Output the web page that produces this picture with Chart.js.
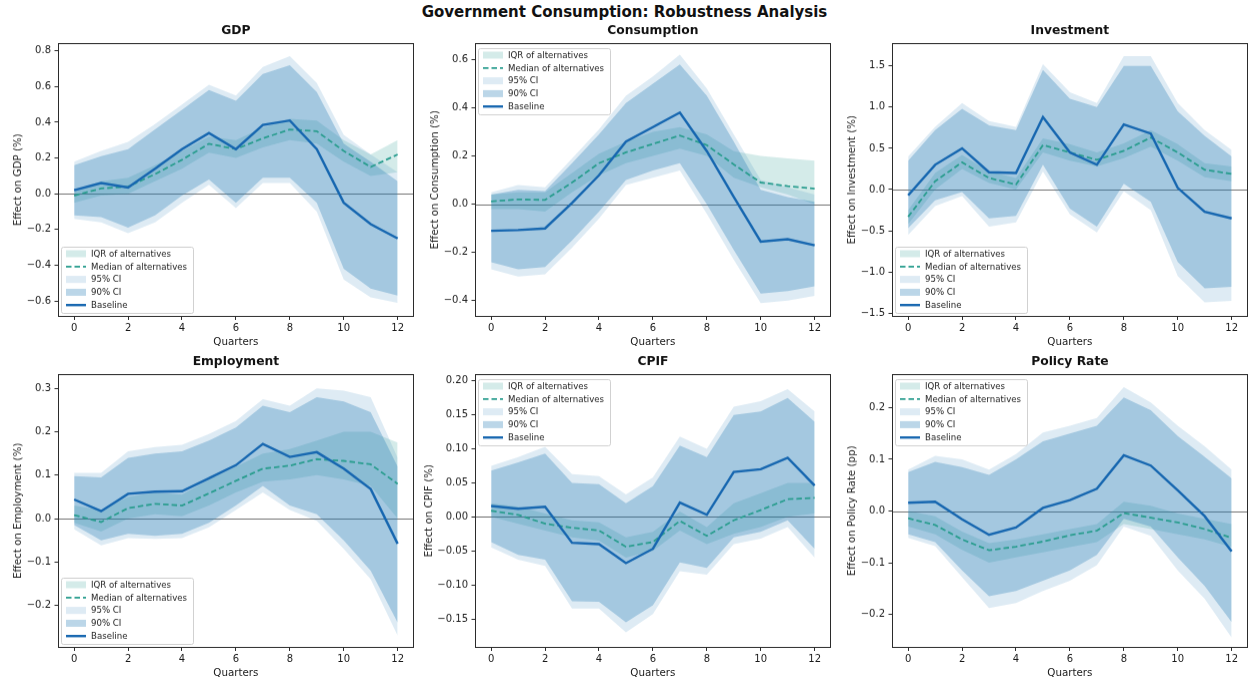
<!DOCTYPE html>
<html>
<head>
<meta charset="utf-8">
<script src="https://cdn.jsdelivr.net/npm/chart.js@4.4.1/dist/chart.umd.min.js"></script>
<style>
  html, body { margin: 0; padding: 0; background: #fff; width: 1249px; height: 680px; overflow: hidden; }
  #suptitle { position: absolute; left: 0; top: 3px; width: 1249px; text-align: center;
              font: bold 15px "DejaVu Sans", sans-serif; color: #111; }
  .panel { position: absolute; }
</style>
</head>
<body>
<div id="suptitle">Government Consumption: Robustness Analysis</div>
<div class="panel" id="p0"><canvas></canvas></div>
<div class="panel" id="p1"><canvas></canvas></div>
<div class="panel" id="p2"><canvas></canvas></div>
<div class="panel" id="p3"><canvas></canvas></div>
<div class="panel" id="p4"><canvas></canvas></div>
<div class="panel" id="p5"><canvas></canvas></div>
<script>
// Horizon (quarters after the shock)
const quarters = [0, 1, 2, 3, 4, 5, 6, 7, 8, 9, 10, 11, 12];
const xTicks = [0, 2, 4, 6, 8, 10, 12];

// ---- GDP ----
const gdpBaseline = [0.02, 0.06, 0.035, 0.14, 0.25, 0.34, 0.25, 0.385, 0.41, 0.25, -0.05, -0.17, -0.25];
const gdpMedian   = [-0.01, 0.03, 0.04, 0.11, 0.19, 0.28, 0.25, 0.31, 0.36, 0.35, 0.24, 0.15, 0.22];
const gdpIqrLo    = [-0.05, -0.01, 0.0, 0.07, 0.14, 0.23, 0.2, 0.26, 0.3, 0.28, 0.18, 0.1, 0.12];
const gdpIqrHi    = [0.02, 0.07, 0.09, 0.16, 0.24, 0.32, 0.3, 0.37, 0.42, 0.41, 0.3, 0.22, 0.3];
const gdpCi90Lo   = [-0.12, -0.13, -0.19, -0.12, -0.01, 0.08, -0.05, 0.09, 0.09, -0.05, -0.42, -0.53, -0.57];
const gdpCi90Hi   = [0.16, 0.21, 0.25, 0.36, 0.47, 0.58, 0.52, 0.67, 0.72, 0.57, 0.28, 0.18, 0.07];
const gdpCi95Lo   = [-0.14, -0.16, -0.22, -0.16, -0.05, 0.05, -0.08, 0.06, 0.06, -0.1, -0.48, -0.58, -0.61];
const gdpCi95Hi   = [0.18, 0.24, 0.29, 0.39, 0.5, 0.61, 0.55, 0.71, 0.77, 0.62, 0.33, 0.22, 0.12];
const gdpYTicks   = [-0.6, -0.4, -0.2, 0, 0.2, 0.4, 0.6, 0.8];
const gdpYLabels  = ['\u22120.6', '\u22120.4', '\u22120.2', '0.0', '0.2', '0.4', '0.6', '0.8'];

// ---- Consumption ----
const consBaseline = [-0.11, -0.107, -0.1, 0.005, 0.12, 0.26, 0.32, 0.38, 0.22, 0.03, -0.155, -0.145, -0.17];
const consMedian   = [0.012, 0.02, 0.018, 0.09, 0.17, 0.215, 0.25, 0.285, 0.245, 0.165, 0.09, 0.075, 0.065];
const consIqrLo    = [-0.02, -0.02, -0.03, 0.05, 0.12, 0.17, 0.2, 0.23, 0.2, 0.11, 0.07, 0.04, 0.0];
const consIqrHi    = [0.04, 0.05, 0.05, 0.13, 0.21, 0.26, 0.3, 0.32, 0.29, 0.22, 0.2, 0.19, 0.18];
const consCi90Lo   = [-0.24, -0.27, -0.26, -0.15, -0.03, 0.1, 0.14, 0.17, 0.0, -0.19, -0.37, -0.36, -0.34];
const consCi90Hi   = [0.04, 0.06, 0.055, 0.17, 0.29, 0.42, 0.5, 0.58, 0.45, 0.26, 0.06, 0.03, 0.01];
const consCi95Lo   = [-0.27, -0.3, -0.29, -0.18, -0.06, 0.08, 0.11, 0.14, -0.04, -0.23, -0.41, -0.4, -0.38];
const consCi95Hi   = [0.05, 0.08, 0.07, 0.19, 0.31, 0.45, 0.53, 0.62, 0.48, 0.29, 0.1, 0.07, 0.04];
const consYTicks   = [-0.4, -0.2, 0, 0.2, 0.4, 0.6];
const consYLabels  = ['\u22120.4', '\u22120.2', '0.0', '0.2', '0.4', '0.6'];

// ---- Investment ----
const invBaseline = [-0.07, 0.3, 0.5, 0.21, 0.2, 0.88, 0.45, 0.3, 0.79, 0.68, 0.02, -0.27, -0.35];
const invMedian   = [-0.33, 0.1, 0.33, 0.14, 0.06, 0.54, 0.45, 0.36, 0.47, 0.63, 0.45, 0.24, 0.19];
const invIqrLo    = [-0.42, 0.0, 0.25, 0.08, 0.0, 0.45, 0.35, 0.28, 0.38, 0.52, 0.35, 0.15, 0.1];
const invIqrHi    = [-0.25, 0.2, 0.42, 0.22, 0.14, 0.62, 0.55, 0.45, 0.56, 0.72, 0.55, 0.32, 0.28];
const invCi90Lo   = [-0.47, -0.13, -0.03, -0.35, -0.32, 0.3, -0.23, -0.45, 0.07, -0.15, -0.88, -1.2, -1.18];
const invCi90Hi   = [0.35, 0.72, 0.98, 0.78, 0.72, 1.45, 1.1, 1.0, 1.5, 1.5, 0.95, 0.65, 0.4];
const invCi95Lo   = [-0.55, -0.2, -0.08, -0.45, -0.4, 0.22, -0.3, -0.52, -0.02, -0.25, -1.05, -1.37, -1.35];
const invCi95Hi   = [0.4, 0.76, 1.05, 0.83, 0.76, 1.52, 1.18, 1.05, 1.62, 1.62, 1.05, 0.72, 0.48];
const invYTicks   = [-1.5, -1.0, -0.5, 0, 0.5, 1.0, 1.5];
const invYLabels  = ['\u22121.5', '\u22121.0', '\u22120.5', '0.0', '0.5', '1.0', '1.5'];

// ---- Employment ----
const empBaseline = [0.044, 0.017, 0.057, 0.062, 0.063, 0.093, 0.123, 0.172, 0.142, 0.153, 0.115, 0.068, -0.058];
const empMedian   = [0.008, -0.008, 0.024, 0.034, 0.03, 0.058, 0.087, 0.115, 0.122, 0.137, 0.133, 0.125, 0.08];
const empIqrLo    = [-0.01, -0.03, 0.0, 0.01, 0.005, 0.03, 0.06, 0.085, 0.09, 0.1, 0.09, 0.075, 0.0];
const empIqrHi    = [0.03, 0.02, 0.05, 0.06, 0.055, 0.09, 0.12, 0.15, 0.16, 0.18, 0.2, 0.2, 0.175];
const empCi90Lo   = [-0.015, -0.05, -0.035, -0.04, -0.035, -0.01, 0.03, 0.075, 0.03, 0.01, -0.05, -0.12, -0.24];
const empCi90Hi   = [0.098, 0.095, 0.14, 0.15, 0.155, 0.18, 0.21, 0.26, 0.245, 0.28, 0.27, 0.245, 0.12];
const empCi95Lo   = [-0.025, -0.062, -0.045, -0.047, -0.045, -0.02, 0.02, 0.06, 0.02, -0.005, -0.07, -0.14, -0.27];
const empCi95Hi   = [0.105, 0.105, 0.155, 0.165, 0.17, 0.195, 0.225, 0.275, 0.26, 0.3, 0.295, 0.28, 0.14];
const empYTicks   = [-0.2, -0.1, 0, 0.1, 0.2, 0.3];
const empYLabels  = ['\u22120.2', '\u22120.1', '0.0', '0.1', '0.2', '0.3'];

// ---- CPIF ----
const cpifBaseline = [0.016, 0.012, 0.015, -0.038, -0.04, -0.068, -0.047, 0.021, 0.003, 0.066, 0.07, 0.087, 0.046];
const cpifMedian   = [0.009, 0.003, -0.01, -0.016, -0.02, -0.044, -0.037, -0.006, -0.028, -0.005, 0.01, 0.026, 0.028];
const cpifIqrLo    = [0.0, -0.01, -0.02, -0.03, -0.035, -0.06, -0.05, -0.02, -0.04, -0.025, -0.015, 0.0, 0.005];
const cpifIqrHi    = [0.02, 0.015, 0.005, -0.005, -0.008, -0.03, -0.022, 0.008, -0.015, 0.02, 0.035, 0.05, 0.05];
const cpifCi90Lo   = [-0.037, -0.056, -0.063, -0.124, -0.125, -0.155, -0.13, -0.067, -0.075, -0.03, -0.022, -0.005, -0.047];
const cpifCi90Hi   = [0.068, 0.08, 0.093, 0.05, 0.048, 0.02, 0.045, 0.105, 0.088, 0.15, 0.155, 0.175, 0.14];
const cpifCi95Lo   = [-0.045, -0.063, -0.072, -0.135, -0.135, -0.17, -0.143, -0.08, -0.085, -0.04, -0.032, -0.015, -0.06];
const cpifCi95Hi   = [0.075, 0.088, 0.103, 0.063, 0.06, 0.033, 0.058, 0.118, 0.1, 0.162, 0.17, 0.188, 0.155];
const cpifYTicks   = [-0.15, -0.1, -0.05, 0, 0.05, 0.1, 0.15, 0.2];
const cpifYLabels  = ['\u22120.15', '\u22120.10', '\u22120.05', '0.00', '0.05', '0.10', '0.15', '0.20'];

// ---- Policy Rate ----
const rateBaseline = [0.016, 0.018, -0.016, -0.046, -0.032, 0.006, 0.021, 0.043, 0.108, 0.088, 0.04, -0.01, -0.078];
const rateMedian   = [-0.014, -0.027, -0.055, -0.076, -0.069, -0.059, -0.047, -0.038, -0.004, -0.013, -0.022, -0.035, -0.052];
const rateIqrLo    = [-0.03, -0.045, -0.075, -0.1, -0.09, -0.08, -0.07, -0.06, -0.025, -0.035, -0.045, -0.055, -0.07];
const rateIqrHi    = [0.0, -0.01, -0.04, -0.062, -0.055, -0.045, -0.035, -0.025, 0.018, 0.01, -0.005, -0.015, -0.025];
const rateCi90Lo   = [-0.045, -0.06, -0.115, -0.165, -0.155, -0.135, -0.115, -0.085, -0.015, -0.03, -0.09, -0.145, -0.215];
const rateCi90Hi   = [0.075, 0.095, 0.085, 0.07, 0.1, 0.135, 0.15, 0.165, 0.22, 0.195, 0.145, 0.105, 0.063];
const rateCi95Lo   = [-0.052, -0.068, -0.128, -0.188, -0.178, -0.155, -0.135, -0.105, -0.03, -0.048, -0.115, -0.17, -0.245];
const rateCi95Hi   = [0.08, 0.107, 0.1, 0.08, 0.11, 0.152, 0.165, 0.18, 0.24, 0.21, 0.165, 0.125, 0.08];
const rateYTicks   = [-0.2, -0.1, 0, 0.1, 0.2];
const rateYLabels  = ['\u22120.2', '\u22120.1', '0.0', '0.1', '0.2'];

// ---- Styling ----
const FONT = '"DejaVu Sans", "Liberation Sans", sans-serif';
const TEXT = '#1a1a1a';
const BASE_COLOR = '#1767b0';
const MEDIAN_COLOR = '#2a9d8f';
const IQR_FILL = 'rgba(42,157,143,0.2)';
const CI95_FILL = 'rgba(31,119,180,0.15)';
const CI90_FILL = 'rgba(31,119,180,0.3)';

// Plot-area rectangles of the 3x2 grid (page pixels)
const COLS = [57.5, 475, 892];
const ROWS = [43, 374];
const PLOT_W = 356, PLOT_H = 272.5;

const panels = [
  { id: 'p0', title: 'GDP', yTitle: 'Effect on GDP (%)', col: 0, row: 0, yMin: -0.686, yMax: 0.843,
    base: gdpBaseline, med: gdpMedian, iqrLo: gdpIqrLo, iqrHi: gdpIqrHi,
    lo90: gdpCi90Lo, hi90: gdpCi90Hi, lo95: gdpCi95Lo, hi95: gdpCi95Hi,
    ticks: gdpYTicks, labels: gdpYLabels, legend: 'lower', titleGap: 40 },
  { id: 'p1', title: 'Consumption', yTitle: 'Effect on Consumption (%)', col: 1, row: 0, yMin: -0.465, yMax: 0.668,
    base: consBaseline, med: consMedian, iqrLo: consIqrLo, iqrHi: consIqrHi,
    lo90: consCi90Lo, hi90: consCi90Hi, lo95: consCi95Lo, hi95: consCi95Hi,
    ticks: consYTicks, labels: consYLabels, legend: 'upper', titleGap: 40 },
  { id: 'p2', title: 'Investment', yTitle: 'Effect on Investment (%)', col: 2, row: 0, yMin: -1.54, yMax: 1.777,
    base: invBaseline, med: invMedian, iqrLo: invIqrLo, iqrHi: invIqrHi,
    lo90: invCi90Lo, hi90: invCi90Hi, lo95: invCi95Lo, hi95: invCi95Hi,
    ticks: invYTicks, labels: invYLabels, legend: 'lower', titleGap: 40 },
  { id: 'p3', title: 'Employment', yTitle: 'Effect on Employment (%)', col: 0, row: 1, yMin: -0.297, yMax: 0.333,
    base: empBaseline, med: empMedian, iqrLo: empIqrLo, iqrHi: empIqrHi,
    lo90: empCi90Lo, hi90: empCi90Hi, lo95: empCi95Lo, hi95: empCi95Hi,
    ticks: empYTicks, labels: empYLabels, legend: 'lower', titleGap: 40 },
  { id: 'p4', title: 'CPIF', yTitle: 'Effect on CPIF (%)', col: 1, row: 1, yMin: -0.192, yMax: 0.21,
    base: cpifBaseline, med: cpifMedian, iqrLo: cpifIqrLo, iqrHi: cpifIqrHi,
    lo90: cpifCi90Lo, hi90: cpifCi90Hi, lo95: cpifCi95Lo, hi95: cpifCi95Hi,
    ticks: cpifYTicks, labels: cpifYLabels, legend: 'upper', titleGap: 46 },
  { id: 'p5', title: 'Policy Rate', yTitle: 'Effect on Policy Rate (pp)', col: 2, row: 1, yMin: -0.264, yMax: 0.265,
    base: rateBaseline, med: rateMedian, iqrLo: rateIqrLo, iqrHi: rateIqrHi,
    lo90: rateCi90Lo, hi90: rateCi90Hi, lo95: rateCi95Lo, hi95: rateCi95Hi,
    ticks: rateYTicks, labels: rateYLabels, legend: 'upper', titleGap: 40 }
];

const pts = arr => quarters.map((q, i) => ({ x: q, y: arr[i] }));

// Zero reference line, drawn underneath the bands
const zeroLine = {
  id: 'zeroLine',
  beforeDatasetsDraw(chart) {
    const { ctx, chartArea: ca, scales } = chart;
    const y = Math.round(scales.y.getPixelForValue(0)) + 0.5;
    ctx.save();
    ctx.strokeStyle = 'rgba(0,0,0,0.55)';
    ctx.lineWidth = 1;
    ctx.beginPath();
    ctx.moveTo(ca.left, y);
    ctx.lineTo(ca.right, y);
    ctx.stroke();
    ctx.restore();
  }
};

// Axes frame on all four sides, plus the subplot title centred over the axes
const frame = {
  id: 'frame',
  afterDraw(chart, args, opts) {
    const { ctx, chartArea: ca } = chart;
    ctx.save();
    ctx.strokeStyle = '#2b2b2b';
    ctx.lineWidth = 1;
    const l = Math.round(ca.left) + 0.5, t = Math.round(ca.top) + 0.5;
    const r = Math.round(ca.right) - 0.5, b = Math.round(ca.bottom) - 0.5;
    ctx.strokeRect(l, t, r - l, b - t);
    ctx.fillStyle = '#111';
    ctx.font = 'bold 12.3px ' + FONT;
    ctx.textAlign = 'center';
    ctx.textBaseline = 'middle';
    ctx.fillText(opts.text, (ca.left + ca.right) / 2, ca.top - 12);
    ctx.restore();
  }
};

// Legend drawn inside the axes
const legendEntries = [
  { kind: 'patch', color: IQR_FILL, text: 'IQR of alternatives' },
  { kind: 'dash', color: MEDIAN_COLOR, text: 'Median of alternatives' },
  { kind: 'patch', color: CI95_FILL, text: '95% CI' },
  { kind: 'patch', color: CI90_FILL, text: '90% CI' },
  { kind: 'line', color: BASE_COLOR, text: 'Baseline' }
];
const insetLegend = {
  id: 'insetLegend',
  afterDatasetsDraw(chart, args, opts) {
    const { ctx, chartArea: ca } = chart;
    const w = 132, h = 66;
    const x0 = ca.left + 3;
    const y0 = opts.loc === 'upper' ? ca.top + 4.5 : ca.bottom - 4 - h;
    ctx.save();
    ctx.fillStyle = 'rgba(255,255,255,0.8)';
    ctx.strokeStyle = 'rgba(204,204,204,0.9)';
    ctx.lineWidth = 1;
    ctx.beginPath();
    ctx.roundRect(Math.round(x0) + 0.5, Math.round(y0) + 0.5, w, h, 2);
    ctx.fill();
    ctx.stroke();
    ctx.font = '8.6px ' + FONT;
    ctx.textBaseline = 'middle';
    ctx.textAlign = 'left';
    legendEntries.forEach((e, i) => {
      const cy = y0 + 7.5 + i * 12.8;
      const hx = x0 + 5, hw = 20;
      if (e.kind === 'patch') {
        ctx.fillStyle = e.color;
        ctx.fillRect(hx, cy - 3.5, hw, 7);
      } else {
        ctx.strokeStyle = e.color;
        ctx.lineWidth = e.kind === 'line' ? 2.4 : 1.8;
        ctx.setLineDash(e.kind === 'dash' ? [5.5, 3] : []);
        ctx.beginPath();
        ctx.moveTo(hx, cy);
        ctx.lineTo(hx + hw, cy);
        ctx.stroke();
        ctx.setLineDash([]);
      }
      ctx.fillStyle = TEXT;
      ctx.fillText(e.text, x0 + 30, cy + 0.5);
    });
    ctx.restore();
  }
};

const TITLE_H = 19;
const XAXIS_H = 32;
const RIGHT_PAD = 1;

panels.forEach(p => {
  const plotLeft = COLS[p.col], plotTop = ROWS[p.row];
  const yAxisW = p.titleGap + 6;
  const div = document.getElementById(p.id);
  div.style.left = (plotLeft - yAxisW) + 'px';
  div.style.top = (plotTop - TITLE_H) + 'px';
  div.style.width = (PLOT_W + yAxisW + RIGHT_PAD) + 'px';
  div.style.height = (PLOT_H + TITLE_H + XAXIS_H) + 'px';

  const noLine = { borderColor: 'rgba(0,0,0,0)', borderWidth: 0, pointRadius: 0, tension: 0 };
  const datasets = [
    { label: 'Baseline', data: pts(p.base), borderColor: BASE_COLOR, borderWidth: 2.4,
      pointRadius: 0, fill: false, tension: 0, order: 0 },
    { label: 'Median of alternatives', data: pts(p.med), borderColor: MEDIAN_COLOR, borderWidth: 1.8,
      borderDash: [5.5, 3], pointRadius: 0, fill: false, tension: 0, order: 1 },
    Object.assign({ label: '90% CI', data: pts(p.hi90), fill: '+1', backgroundColor: CI90_FILL, order: 2 }, noLine),
    Object.assign({ label: '90% CI low', data: pts(p.lo90), fill: false, order: 2 }, noLine),
    Object.assign({ label: '95% CI', data: pts(p.hi95), fill: '+1', backgroundColor: CI95_FILL, order: 3 }, noLine),
    Object.assign({ label: '95% CI low', data: pts(p.lo95), fill: false, order: 3 }, noLine),
    Object.assign({ label: 'IQR of alternatives', data: pts(p.iqrHi), fill: '+1', backgroundColor: IQR_FILL, order: 4 }, noLine),
    Object.assign({ label: 'IQR low', data: pts(p.iqrLo), fill: false, order: 4 }, noLine)
  ];

  new Chart(div.querySelector('canvas'), {
    type: 'line',
    data: { datasets },
    plugins: [zeroLine, insetLegend, frame],
    options: {
      responsive: true,
      maintainAspectRatio: false,
      animation: false,
      events: [],
      layout: { padding: { left: 0, top: TITLE_H, right: RIGHT_PAD, bottom: 0 } },
      plugins: {
        legend: { display: false },
        tooltip: { enabled: false },
        title: { display: false },
        insetLegend: { loc: p.legend },
        frame: { text: p.title }
      },
      scales: {
        x: {
          type: 'linear', min: -0.6, max: 12.6,
          afterBuildTicks: s => { s.ticks = xTicks.map(v => ({ value: v })); },
          afterFit: s => { s.height = XAXIS_H; },
          ticks: { color: TEXT, font: { family: FONT, size: 10 }, padding: 2, maxRotation: 0,
                   callback: v => String(v) },
          grid: { drawOnChartArea: false, drawTicks: true, tickLength: 3.5, color: '#2b2b2b', tickWidth: 1 },
          border: { display: false },
          title: { display: true, text: 'Quarters', color: TEXT,
                   font: { family: FONT, size: 10.3, lineHeight: '12px' }, padding: { top: 0, bottom: 0 } }
        },
        y: {
          type: 'linear', min: p.yMin, max: p.yMax,
          afterBuildTicks: s => { s.ticks = p.ticks.map(v => ({ value: v })); },
          afterFit: s => { s.width = yAxisW; },
          ticks: { color: TEXT, font: { family: FONT, size: 10 }, padding: 3.5,
                   callback: (v, i) => p.labels[i] },
          grid: { drawOnChartArea: false, drawTicks: true, tickLength: 3.5, color: '#2b2b2b', tickWidth: 1 },
          border: { display: false },
          title: { display: true, text: p.yTitle, color: TEXT,
                   font: { family: FONT, size: 10.3, lineHeight: '12px' }, padding: { top: 0, bottom: 0 } }
        }
      }
    }
  });
});
</script>
</body>
</html>
